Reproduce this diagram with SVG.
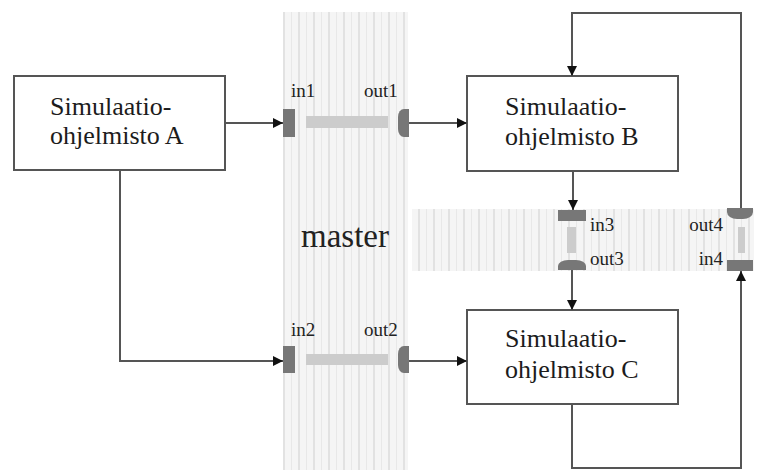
<svg xmlns="http://www.w3.org/2000/svg" width="757" height="470" viewBox="0 0 757 470">
<defs>
<pattern id="stripes" x="283" y="0" width="15" height="10" patternUnits="userSpaceOnUse">
<rect width="15" height="10" fill="#f5f5f5"/>
<rect x="0" width="2" height="10" fill="#e2e2e2"/>
<rect x="8" width="1" height="10" fill="#e8e8e8"/>
</pattern>
<marker id="arr" viewBox="0 0 10 10" refX="10" refY="5" markerWidth="10" markerHeight="10" markerUnits="userSpaceOnUse" orient="auto">
<path d="M0,0 L10,5 L0,10 Z" fill="#111"/>
</marker>
<style>
.box{fill:#fff;stroke:#555;stroke-width:2}
.bt{font-family:"Liberation Serif",serif;font-size:26px;fill:#1c1c1c}
.pl{font-family:"Liberation Serif",serif;font-size:19px;fill:#222}
.port{fill:#777}
.bar{fill:#cccccc}
.ln{fill:none;stroke:#555;stroke-width:2}
</style>
</defs>
<g id="master">
<rect x="283" y="12" width="125" height="458" fill="url(#stripes)"/>
<rect x="412" y="209" width="342" height="62" fill="url(#stripes)"/>
<text x="301" y="247" style="font-family:'Liberation Serif',serif;font-size:33px;fill:#222">master</text>
</g>
<g id="ports">
<rect class="port" x="283" y="109" width="12" height="28"/>
<rect class="bar" x="306" y="116" width="82" height="12"/>
<path class="port" d="M409,109 H404 A6,8 0 0 0 398,117 V129 A6,8 0 0 0 404,137 H409 Z"/>
<text class="pl" x="291" y="97">in1</text>
<text class="pl" x="364" y="97">out1</text>
<rect class="port" x="283" y="346" width="12" height="27"/>
<rect class="bar" x="306" y="354" width="82" height="11"/>
<path class="port" d="M409,346 H404 A6,8 0 0 0 398,354 V365 A6,8 0 0 0 404,373 H409 Z"/>
<text class="pl" x="291" y="336">in2</text>
<text class="pl" x="364" y="336">out2</text>
<rect class="port" x="558" y="210" width="28" height="11"/>
<rect class="bar" x="567" y="227" width="9" height="26"/>
<path class="port" d="M558,270 V266 A10,6 0 0 1 568,260 H576 A10,6 0 0 1 586,266 V270 Z"/>
<text class="pl" x="590" y="231">in3</text>
<text class="pl" x="590" y="265">out3</text>
<path class="port" d="M727,208 V212 A10,7 0 0 0 737,219 H743 A10,7 0 0 0 753,212 V208 Z"/>
<rect class="bar" x="738" y="227" width="7" height="26"/>
<rect class="port" x="727" y="260" width="26" height="11"/>
<text class="pl" x="723" y="231" text-anchor="end">out4</text>
<text class="pl" x="723" y="265" text-anchor="end">in4</text>
</g>
<g id="nodeA">
<rect class="box" x="14" y="76" width="211" height="94"/>
<text class="bt" x="50" y="115">Simulaatio-</text>
<text class="bt" x="50" y="144">ohjelmisto A</text>
</g>
<g id="nodeB">
<rect class="box" x="467" y="76" width="211" height="95"/>
<text class="bt" x="505" y="115">Simulaatio-</text>
<text class="bt" x="505" y="145">ohjelmisto B</text>
</g>
<g id="nodeC">
<rect class="box" x="467" y="310" width="211" height="94"/>
<text class="bt" x="505" y="347">Simulaatio-</text>
<text class="bt" x="505" y="378">ohjelmisto C</text>
</g>
<g id="connectors">
<path class="ln" d="M225,123 H283" marker-end="url(#arr)"/>
<path class="ln" d="M120,170 V361 H283" marker-end="url(#arr)"/>
<path class="ln" d="M409,123 H467" marker-end="url(#arr)"/>
<path class="ln" d="M409,361 H467" marker-end="url(#arr)"/>
<path class="ln" d="M573,171 V210" marker-end="url(#arr)"/>
<path class="ln" d="M572,270 V310" marker-end="url(#arr)"/>
<path class="ln" d="M572,404 V468 H741 V271" marker-end="url(#arr)"/>
<path class="ln" d="M741,208 V13 H572 V76" marker-end="url(#arr)"/>
</g>
</svg>
